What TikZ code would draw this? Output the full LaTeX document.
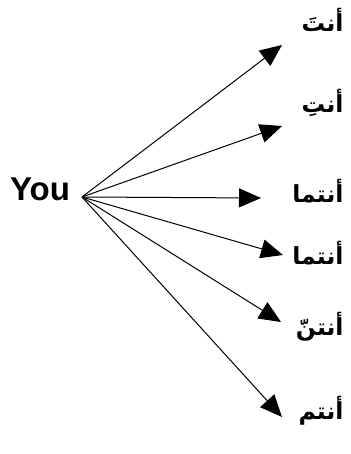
\documentclass[tikz,border=0pt]{standalone}
\usepackage{fontspec}
\setmainfont{Liberation Sans}
\newfontfamily\arabicfont[Script=Arabic]{DejaVu Sans}
\TeXXeTstate=1
\usetikzlibrary{arrows.meta}

\begin{document}
\begin{tikzpicture}[x=1pt,y=-1pt,
  pron/.style={anchor=east,font=\arabicfont\bfseries\fontsize{23.5}{28}\selectfont},
  fan/.style={-{Triangle[length=22pt,width=19pt]},line width=1pt}]
  \useasboundingbox (0,0) rectangle (350,454);
  \node[font=\bfseries\fontsize{33}{37}\selectfont] (you) at (40,189) {You};
  \coordinate (hub) at (82,197);
  \foreach \i/\tx/\ty/\ly/\word in {1/282/45/20/أنتَ, 2/282/126/103/أنتِ, 3/261/198/191/أنتما,
      4/283/255/253/أنتما, 5/281/322/327/أنتنّ, 6/282/417/411/أنتم} {
    \coordinate (tip\i) at (\tx,\ty);
    \node[pron] (w\i) at (347,\ly) {\beginR\word\endR};
    \draw[fan] (hub) -- (tip\i);
  }
\end{tikzpicture}
\end{document}
